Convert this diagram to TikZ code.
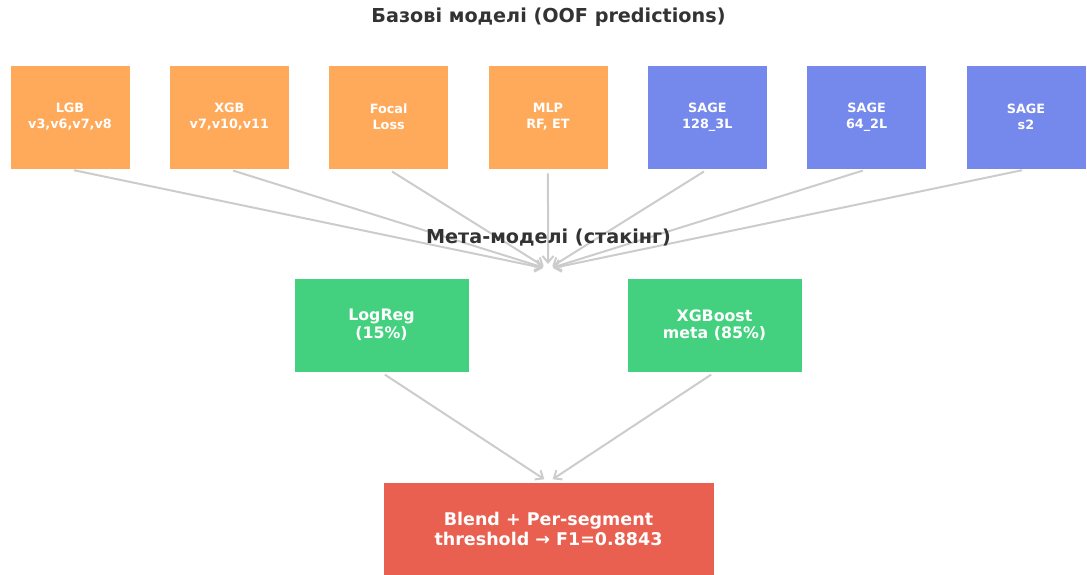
\documentclass[tikz,border=0pt]{standalone}
\usepackage{fontspec}
\setmainfont{DejaVu Sans}
\usetikzlibrary{arrows.meta}
\usepackage{xcolor}

\definecolor{basecol}{HTML}{FFA95A}
\definecolor{sagecol}{HTML}{7489EB}
\definecolor{metacol}{HTML}{44D17F}
\definecolor{blendcol}{HTML}{E95F50}
\definecolor{titlecol}{HTML}{333333}
\definecolor{arrowcol}{HTML}{CCCCCC}

\begin{document}
\begin{tikzpicture}[x=1pt,y=-1pt,node distance=159.33pt,
  feed/.style={-{Straight Barb[length=6.5pt,width=11pt]},draw=arrowcol,
               line width=2pt,shorten <=4pt,shorten >=5pt},
  box/.style={rectangle,draw=white,line width=0.8pt,text=white,align=center,
              inner sep=0pt},
  base node/.style={box,fill=basecol,minimum width=120pt,minimum height=104pt,
                    font=\bfseries\fontsize{12.8}{16}\selectfont},
  sage node/.style={base node,fill=sagecol},
  meta node/.style={box,fill=metacol,minimum width=175pt,minimum height=94pt,
                    font=\bfseries\fontsize{15.8}{17.5}\selectfont},
  blend node/.style={box,fill=blendcol,minimum width=331pt,minimum height=94pt,
                     font=\bfseries\fontsize{17.5}{20}\selectfont},
  title node/.style={text=titlecol,font=\bfseries\fontsize{19.2}{22}\selectfont}]

  \useasboundingbox (0,0) rectangle (1087,575);

  \node[title node] (basetitle) at (548.5,17) {Базові моделі (OOF predictions)};

  % base models
  \node[base node] (lgb) at (70,117)    {LGB\\v3,v6,v7,v8};
  \node[base node] (xgb)   [right of=lgb]   {XGB\\v7,v10,v11};
  \node[base node] (focal) [right of=xgb]   {Focal\\Loss};
  \node[base node] (mlp)   [right of=focal] {MLP\\RF, ET};
  \node[sage node] (sagea) [right of=mlp]   {SAGE\\128\_3L};
  \node[sage node] (sageb) [right of=sagea] {SAGE\\64\_2L};
  \node[sage node] (sagec) [right of=sageb] {SAGE\\s2};

  % base models to stacking (drawn under the label)
  \coordinate (stack) at (548,269);
  \foreach \m in {lgb,xgb,focal,mlp,sagea,sageb,sagec}
    \draw[feed] (\m.south) -- (stack);

  % stacking level
  \node[title node] (metatitle) at (548.5,238) {Мета-моделі (стакінг)};

  \node[meta node] (logreg) at (381.5,325) {LogReg\\(15\%)};
  \node[meta node] (xgbmeta) at (714.5,325) {XGBoost\\meta (85\%)};

  \node[blend node] (blend) at (548.5,529) {Blend + Per-segment\\threshold → F1=0.8843};
  \coordinate (blendin) at (548.5,482);

  % meta models to blend
  \draw[feed] (logreg.south) -- (blendin);
  \draw[feed] (xgbmeta.south) -- (blendin);

\end{tikzpicture}
\end{document}
